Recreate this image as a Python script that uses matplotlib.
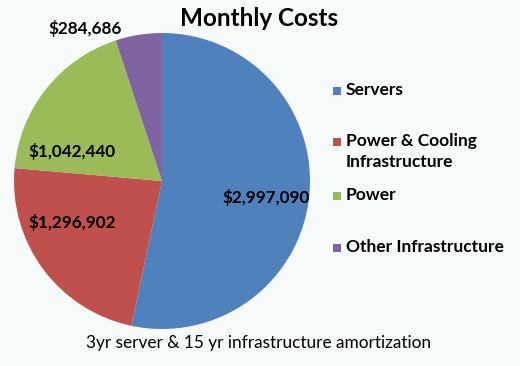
import matplotlib
matplotlib.use("Agg")
import matplotlib.pyplot as plt
from matplotlib.patches import Rectangle

plt.rcParams['font.family'] = ['Lato', 'DejaVu Sans']

# data
categories = ["Servers", "Power & Cooling\nInfrastructure", "Power", "Other Infrastructure"]
costs = [2997090, 1296902, 1042440, 284686]
colors = ["#4F81BD", "#C0504D", "#9BBB59", "#8064A2"]

# label positions in pie data coords (radius = 1)
label_pos = [(0.70, -0.11), (-0.61, -0.28), (-0.61, 0.20), (-0.52, 1.03)]
# legend rows (pixel y of marker centre, from top)
legend_y = [91, 142, 196, 248]

W, H = 520, 366
fig = plt.figure(figsize=(W / 100, H / 100), dpi=100)
bg = "#f6faf8"
fig.patch.set_facecolor(bg)

cx, cy, r = 162, 181, 148
ax = fig.add_axes([(cx - r) / W, 1 - (cy + r) / H, 2 * r / W, 2 * r / H])
ax.pie(costs, colors=colors, startangle=90, counterclock=False,
       wedgeprops=dict(linewidth=0))
ax.set_xlim(-1, 1)
ax.set_ylim(-1, 1)
ax.set_aspect('auto')
ax.axis('off')

for (x, y), v in zip(label_pos, costs):
    ax.text(x, y, f"${v:,}", ha='center', va='center', fontsize=12.3,
            fontweight='bold', color='black')

fig.text(259 / W, 1 - 18 / H, "Monthly Costs", ha='center', va='center',
         fontsize=17.5, fontweight='bold')
fig.text(259 / W, 1 - 343 / H, "3yr server & 15 yr infrastructure amortization",
         ha='center', va='center', fontsize=12.4)

# legend
sq = 8
for lab, col, yy in zip(categories, colors, legend_y):
    fig.add_artist(Rectangle(((333) / W, 1 - (yy + sq / 2) / H), sq / W, sq / H,
                             transform=fig.transFigure, facecolor=col, edgecolor='none'))
    fig.text(346 / W, 1 - (yy - 9) / H, lab, ha='left', va='top', fontsize=12.5,
             fontweight='bold', linespacing=1.35)

fig.savefig("out.png", dpi=100, facecolor=bg)
